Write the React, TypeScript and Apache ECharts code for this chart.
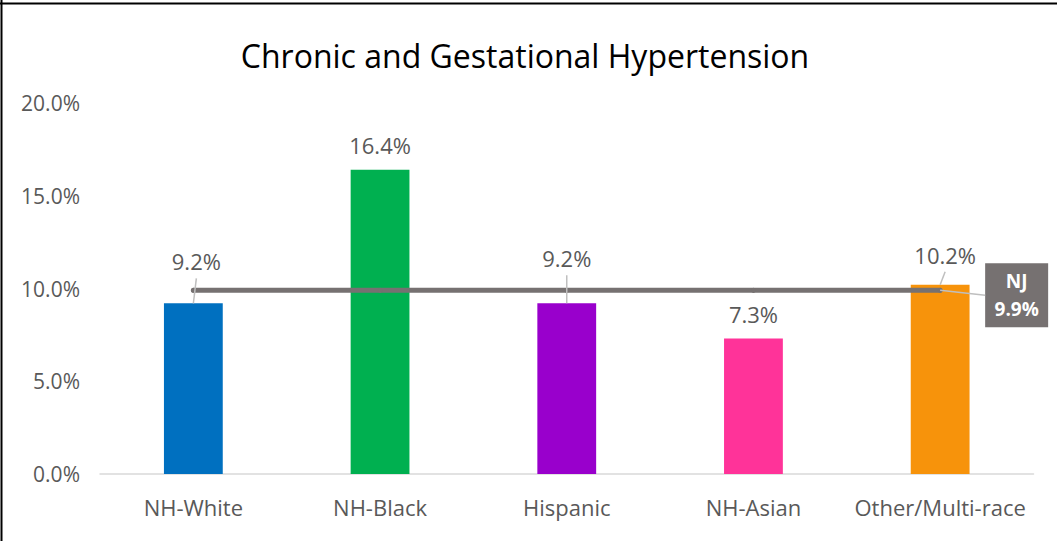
import React, { useEffect, useRef } from "react";
import * as echarts from "echarts";

const categories = ["NH-White", "NH-Black", "Hispanic", "NH-Asian", "Other/Multi-race"];
const rates = [0.092, 0.164, 0.092, 0.073, 0.102];
const njRate = 0.099;
const njLabel = "NJ";
const barColors = ["#0070C0", "#00B050", "#9900CC", "#FF3399", "#F7930B"];
const yTicks = { min: 0, max: 0.2, interval: 0.05 };
const labelOffsets = [[3, -17], [0, 0], [0, -20], [0, 0], [5, -5]];

const FONT = "'Open Sans', sans-serif";
const GREY = "#767171";
const TEXT = "#595959";

export default function App() {
  const ref = useRef<HTMLDivElement>(null);
  useEffect(() => {
    if (!ref.current) return;
    const chart = echarts.init(ref.current, null, { renderer: "svg" });
    const pct = (v: number) => (v * 100).toFixed(1) + "%";
    chart.setOption({
      animation: false,
      backgroundColor: "#fff",
      title: {
        text: "Chronic and Gestational Hypertension",
        left: 520,
        textAlign: "center",
        top: 34,
        textStyle: { fontFamily: FONT, fontSize: 32, fontWeight: "normal", color: "#000" },
      },
      graphic: [
        { type: "line", shape: { x1: 0, y1: 3.5, x2: 1057, y2: 3.5 }, style: { stroke: "#000", lineWidth: 2 } },
        { type: "line", shape: { x1: 1.5, y1: 0, x2: 1.5, y2: 541 }, style: { stroke: "#000", lineWidth: 2 } },
      ],
      grid: { left: 100, right: 23.5, top: 103, bottom: 67, containLabel: false },
      xAxis: {
        type: "category",
        data: categories,
        axisLine: { lineStyle: { color: "#D9D9D9", width: 1.5 } },
        axisTick: { show: false },
        axisLabel: { color: TEXT, fontFamily: FONT, fontSize: 22, margin: 22, interval: 0 },
      },
      yAxis: {
        type: "value",
        min: yTicks.min,
        max: yTicks.max,
        interval: yTicks.interval,
        splitLine: { show: false },
        axisLine: { show: false },
        axisTick: { show: false },
        axisLabel: { color: TEXT, fontFamily: FONT, fontSize: 21, margin: 20, formatter: pct },
      },
      series: [
        {
          type: "bar",
          barWidth: "31.5%",
          data: rates.map((v, i) => ({
            value: v,
            itemStyle: { color: barColors[i] },
            label: { offset: labelOffsets[i] },
          })),
          label: {
            show: true,
            position: "top",
            distance: 14,
            color: TEXT,
            fontFamily: FONT,
            fontSize: 22,
            formatter: (p: any) => pct(p.value),
          },
          z: 2,
        },
        {
          type: "line",
          data: categories.map((_, i) =>
            i === categories.length - 1
              ? {
                  value: njRate,
                  label: {
                    show: true,
                    position: [79, -24.5],
                    verticalAlign: "top",
                    formatter: `${njLabel}\n${pct(njRate)}`,
                    backgroundColor: GREY,
                    color: "#fff",
                    fontFamily: FONT,
                    fontWeight: "bold",
                    fontSize: 19,
                    lineHeight: 28,
                    width: 47,
                    padding: [4, 8],
                    align: "center",
                  },
                }
              : njRate
          ),
          symbol: "circle",
          symbolSize: 5,
          itemStyle: { color: GREY },
          lineStyle: { color: GREY, width: 5, cap: "round" },
          label: { show: false },
          z: 3,
        },
        {
          type: "custom",
          data: rates.map((v, i) => [i, v]),
          z: 4,
          renderItem: (params: any, api: any) => {
            const i = api.value(0);
            const v = api.value(1);
            const [x, y] = api.coord([i, v]);
            const children: any[] = [];
            const off = labelOffsets[i];
            if (off[1] !== 0) {
              children.push({
                type: "line",
                shape: { x1: x, y1: y, x2: x + off[0], y2: y + off[1] - 8 },
                style: { stroke: "#BFBFBF", lineWidth: 1.5 },
              });
            }
            if (i === categories.length - 1) {
              const [lx, ly] = api.coord([i, njRate]);
              children.push({
                type: "line",
                shape: { x1: lx, y1: ly, x2: lx + 45, y2: ly + 5 },
                style: { stroke: "#BFBFBF", lineWidth: 1.5 },
              });
            }
            return { type: "group", children };
          },
        },
      ],
    });
    return () => chart.dispose();
  }, []);
  return (
    <div
      ref={ref}
      style={{ position: "fixed", left: 0, top: 0, width: 1057, height: 541 }}
    />
  );
}
